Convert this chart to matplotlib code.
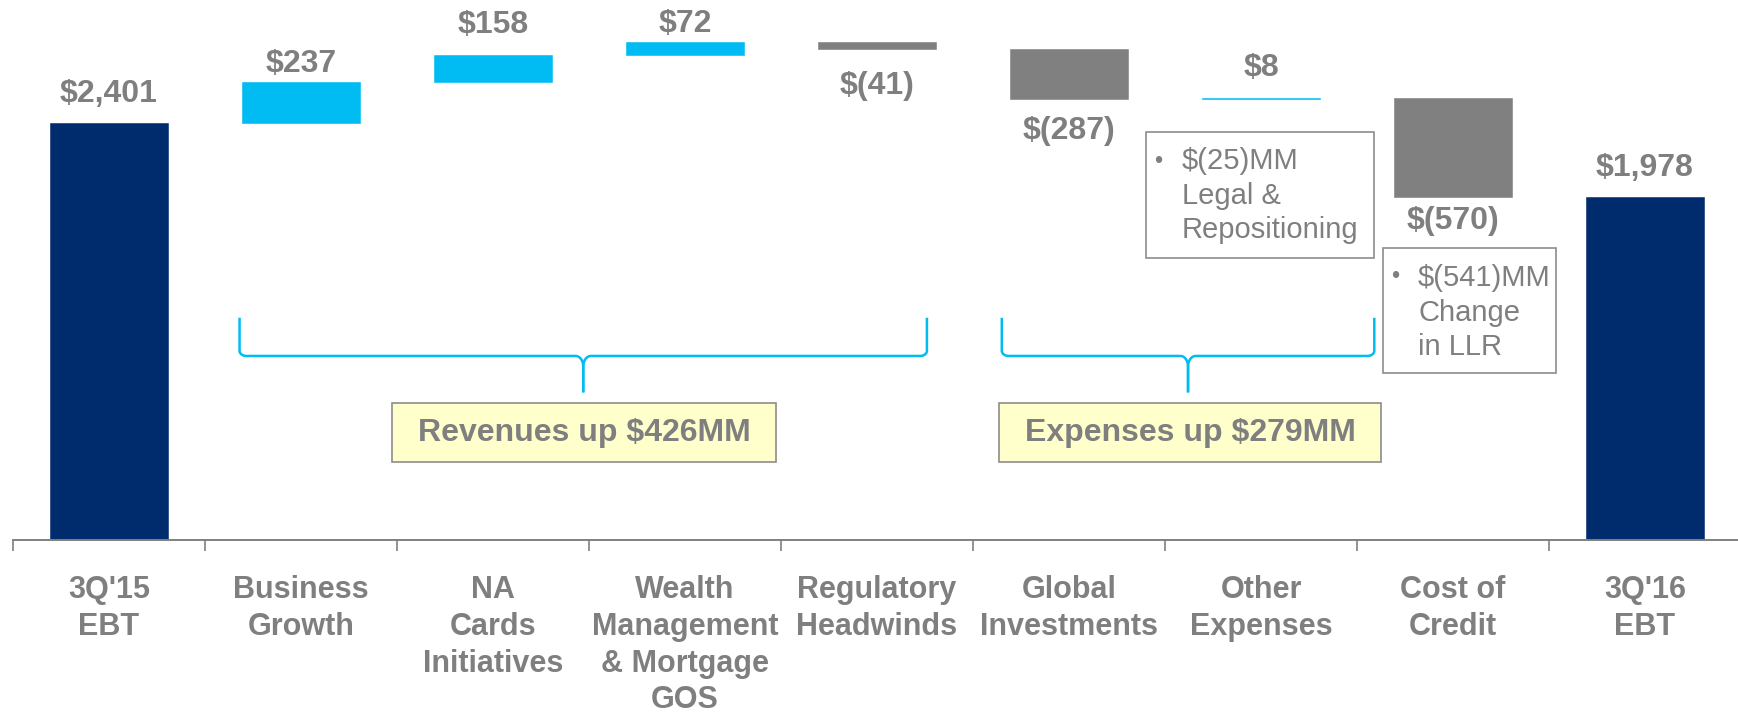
import numpy as np
import matplotlib
matplotlib.use("Agg")
import matplotlib.pyplot as plt
from matplotlib.patches import Rectangle

plt.rcParams['font.family'] = ['Liberation Sans', 'DejaVu Sans']

# ---------------------------------------------------------------------
# data (USD MM)
# ---------------------------------------------------------------------
categories = ["3Q'15\nEBT", "Business\nGrowth", "NA\nCards\nInitiatives",
              "Wealth\nManagement\n& Mortgage\nGOS", "Regulatory\nHeadwinds",
              "Global\nInvestments", "Other\nExpenses", "Cost of\nCredit",
              "3Q'16\nEBT"]
values = [2401, 237, 158, 72, -41, -287, 8, -570, 1978]
is_total = [True, False, False, False, False, False, False, False, True]

group_labels = ["Revenues up $426MM", "Expenses up $279MM"]
note_texts = ["$(25)MM\nLegal &\nRepositioning", "$(541)MM\nChange\nin LLR"]

NAVY = "#002C6E"
CYAN = "#00BCF2"
GREY = "#808080"
TXT = "#7F7F7F"

# ---------------------------------------------------------------------
# waterfall geometry
# ---------------------------------------------------------------------
bottoms, heights, colors = [], [], []
run = 0
for v, tot in zip(values, is_total):
    if tot:
        bottoms.append(0); heights.append(v); colors.append(NAVY)
        run = v
    else:
        bottoms.append(run if v >= 0 else run + v)
        heights.append(abs(v))
        colors.append(CYAN if v >= 0 else GREY)
        run += v

def money(v):
    return f"${v:,}" if v >= 0 else f"$({-v:,})"

# gap between bar edge and label centre, pixels
label_gap = [29, 18, 30, 18, 37, 32, 30, 24, 29]

fig = plt.figure(figsize=(17.38, 7.12), dpi=100)
ax = fig.add_axes([13/1738, 172/712, 1725/1738, 540/712])
x = np.arange(len(values))
ax.bar(x, heights, bottom=bottoms, width=0.61, color=colors,
       edgecolor=colors, linewidth=0.4, zorder=2)
ax.set_xlim(-0.5, -0.5 + 1725/192)
ax.set_ylim(0, 3110)

for i, v in enumerate(values):
    up = v >= 0
    y = bottoms[i] + heights[i] if up else bottoms[i]
    ax.annotate(money(v), (i, y), xytext=(0, label_gap[i] if up else -label_gap[i]),
                textcoords="offset pixels", ha="center", va="center",
                fontsize=23, fontweight="bold", color=TXT)

# axis
for s in ("top", "right", "left"):
    ax.spines[s].set_visible(False)
ax.spines["bottom"].set_color(GREY)
ax.spines["bottom"].set_linewidth(1.4)
ax.set_yticks([])
ax.set_xticks(x)
ax.set_xticklabels(categories, fontsize=22, fontweight="bold", color=TXT,
                   linespacing=1.3)
ax.set_xticks(np.arange(-0.5, 8, 1), minor=True)
ax.tick_params(axis="x", which="major", length=0, pad=25)
ax.tick_params(axis="x", which="minor", length=8, width=1.2, color=GREY)

# ---------------------------------------------------------------------
# braces + group boxes
# ---------------------------------------------------------------------
def brace(xl, xc, xr, yt, yb, ytip, rx=0.035, ry=30, cx=0.04, cy=60):
    t = np.linspace(np.pi, 1.5*np.pi, 20)
    corner_l = (xl + rx + rx*np.cos(t), yb + ry + ry*np.sin(t))
    t2 = np.linspace(0.5*np.pi, 0, 20)
    cusp_l = (xc - cx + cx*np.cos(t2), yb - cy + cy*np.sin(t2))
    xs = np.concatenate([[xl], corner_l[0], cusp_l[0], [xc]])
    ys = np.concatenate([[yt], corner_l[1], cusp_l[1], [ytip]])
    ax.plot(xs, ys, color=CYAN, lw=1.8, solid_capstyle="butt", zorder=3)
    ax.plot(2*xc - xs, ys, color=CYAN, lw=1.8, solid_capstyle="butt", zorder=3)

brace(0.68, 2.47, 4.27, 1280, 1060, 850)
brace(4.65, 5.62, 6.59, 1280, 1060, 850)

for (x0, x1), lab in zip([(1.474, 3.474), (4.635, 6.625)], group_labels):
    ax.add_patch(Rectangle((x0, 449), x1 - x0, 340, facecolor="#FFFFCC",
                           edgecolor="#8C8C8C", lw=1.2, zorder=3))
    ax.text((x0 + x1)/2, 619, lab, ha="center", va="center", fontsize=23,
            fontweight="bold", color=TXT, zorder=4)

# ---------------------------------------------------------------------
# note boxes
# ---------------------------------------------------------------------
note_boxes = [(5.40, 6.59, 1624, 2350), (6.635, 7.536, 962, 1682)]
note_pos = [(5.464, 5.589, 2177, 1982), (6.698, 6.818, 1515, 1308)]
for (x0, x1, y0, y1), (bx, tx, by, ty), txt in zip(note_boxes, note_pos, note_texts):
    ax.add_patch(Rectangle((x0, y0), x1 - x0, y1 - y0, facecolor="white",
                           edgecolor="#8C8C8C", lw=1.2, zorder=3))
    ax.text(bx, by, "\u2022", ha="center", va="center", fontsize=17,
            color=TXT, zorder=4)
    ax.text(tx, ty, txt, ha="left", va="center", fontsize=21, color=TXT,
            linespacing=1.3, zorder=4)

fig.savefig("out.png", dpi=100)
